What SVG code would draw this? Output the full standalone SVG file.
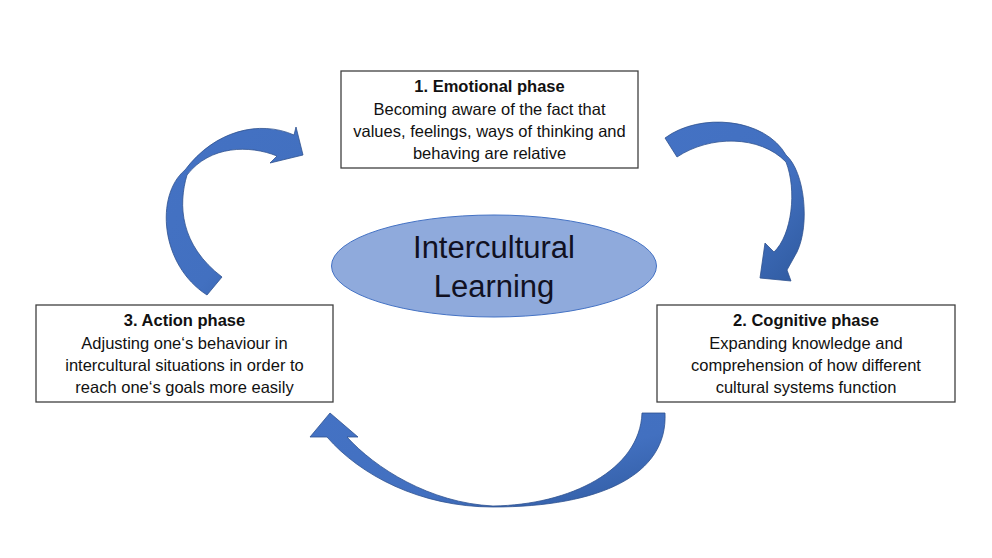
<svg xmlns="http://www.w3.org/2000/svg" width="992" height="558" viewBox="0 0 992 558">
  <style>
    .box { fill: #ffffff; stroke: #404040; stroke-width: 1.3; }
    .t { font-family: "Liberation Sans", Arial, sans-serif; font-size: 16.5px; fill: #111111; text-anchor: middle; }
    .b { font-weight: bold; }
    .big { font-family: "Liberation Sans", Arial, sans-serif; font-size: 31px; fill: #111122; text-anchor: middle; }
    .arrow { fill: url(#ag); stroke: #2F528F; stroke-width: 0.8; stroke-linejoin: round; }
  </style>
  <defs>
    <linearGradient id="ag" x1="0" y1="0" x2="1" y2="1">
      <stop offset="0" stop-color="#4472C4"/>
      <stop offset="0.6" stop-color="#4270C0"/>
      <stop offset="1" stop-color="#2F5A9F"/>
    </linearGradient>
  </defs>
  <rect width="992" height="558" fill="#ffffff"/>

  <g id="connectors">
    <path id="arrow-1-2" class="arrow" d="M 665,138 C 700,112 765,118 786,155 C 805,172 810,225 797,252 L 787,270 L 791,281 L 760,278 L 765,243 L 774,252 C 792,235 797,190 786,162 C 760,135 710,135 677,157 Z"/>
    <path id="arrow-2-3" class="arrow" d="M 665,413 C 668,475 600,507 493,507 C 420,507 360,475 327,437 L 310,437 L 330,413 L 358,437 L 347,437 C 375,468 430,503 493,506 C 570,505 640,470 642,413 Z"/>
    <path id="arrow-3-1" class="arrow" d="M 207,295 C 160,265 155,195 185,170 C 215,130 260,120 294,135 L 296,127 L 303,155 L 270,163 L 277,156 C 250,145 210,145 187,175 C 178,205 180,245 222,277 Z"/>
  </g>

  <g id="center">
    <ellipse cx="494" cy="266" rx="162.5" ry="51" fill="#8FAADC" stroke="#4472C4" stroke-width="1"/>
    <text class="big" x="494" y="258">Intercultural</text>
    <text class="big" x="494" y="297">Learning</text>
  </g>

  <g id="node-emotional">
    <rect class="box" x="341" y="71" width="297" height="97"/>
    <text class="t b" x="489.5" y="92">1. Emotional phase</text>
    <text class="t" x="489.5" y="115">Becoming aware of the fact that</text>
    <text class="t" x="489.5" y="137">values, feelings, ways of thinking and</text>
    <text class="t" x="489.5" y="159">behaving are relative</text>
  </g>

  <g id="node-cognitive">
    <rect class="box" x="657" y="305" width="298" height="97"/>
    <text class="t b" x="806" y="326">2. Cognitive phase</text>
    <text class="t" x="806" y="349">Expanding knowledge and</text>
    <text class="t" x="806" y="371">comprehension of how different</text>
    <text class="t" x="806" y="393">cultural systems function</text>
  </g>

  <g id="node-action">
    <rect class="box" x="36" y="305" width="297" height="97"/>
    <text class="t b" x="184.5" y="326">3. Action phase</text>
    <text class="t" x="184.5" y="349">Adjusting one‘s behaviour in</text>
    <text class="t" x="184.5" y="371">intercultural situations in order to</text>
    <text class="t" x="184.5" y="393">reach one‘s goals more easily</text>
  </g>
</svg>
